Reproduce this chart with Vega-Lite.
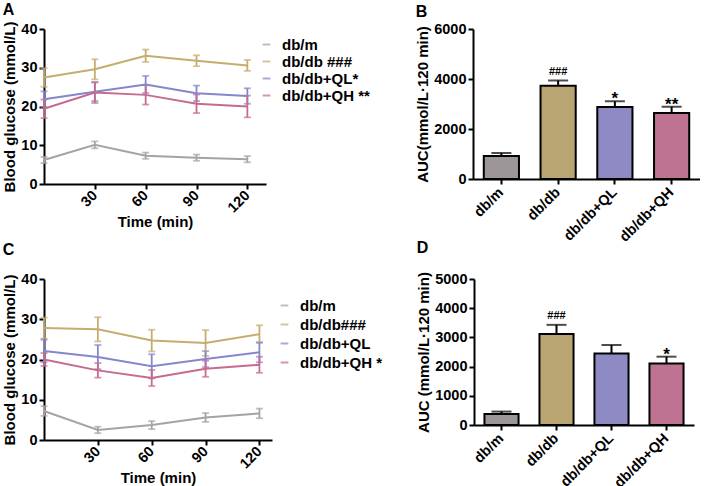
{
  "$schema": "https://vega.github.io/schema/vega-lite/v6.json",
  "padding": {"left": 2, "top": 2, "right": 0, "bottom": 0},
  "background": "white",
  "datasets": {
    "lineA": [
      {"t": 0, "group": "db/m", "mean": 6.2, "sd": 0.8},
      {"t": 30, "group": "db/m", "mean": 10.1, "sd": 0.9},
      {"t": 60, "group": "db/m", "mean": 7.3, "sd": 0.8},
      {"t": 90, "group": "db/m", "mean": 6.8, "sd": 0.8},
      {"t": 120, "group": "db/m", "mean": 6.4, "sd": 0.8},
      {"t": 0, "group": "db/db", "mean": 27.5, "sd": 2.4},
      {"t": 30, "group": "db/db", "mean": 29.6, "sd": 2.6},
      {"t": 60, "group": "db/db", "mean": 33.1, "sd": 1.6},
      {"t": 90, "group": "db/db", "mean": 31.8, "sd": 1.4},
      {"t": 120, "group": "db/db", "mean": 30.6, "sd": 1.4},
      {"t": 0, "group": "db/db+QL", "mean": 21.9, "sd": 2.0},
      {"t": 30, "group": "db/db+QL", "mean": 23.8, "sd": 2.4},
      {"t": 60, "group": "db/db+QL", "mean": 25.7, "sd": 2.2},
      {"t": 90, "group": "db/db+QL", "mean": 23.4, "sd": 2.0},
      {"t": 120, "group": "db/db+QL", "mean": 22.7, "sd": 2.0},
      {"t": 0, "group": "db/db+QH", "mean": 19.4, "sd": 2.4},
      {"t": 30, "group": "db/db+QH", "mean": 23.6, "sd": 2.7},
      {"t": 60, "group": "db/db+QH", "mean": 23.0, "sd": 2.5},
      {"t": 90, "group": "db/db+QH", "mean": 20.7, "sd": 2.4},
      {"t": 120, "group": "db/db+QH", "mean": 20.0, "sd": 2.8}
    ],
    "lineC": [
      {"t": 0, "group": "db/m", "mean": 7.2, "sd": 1.2},
      {"t": 30, "group": "db/m", "mean": 2.5, "sd": 0.8},
      {"t": 60, "group": "db/m", "mean": 3.7, "sd": 1.0},
      {"t": 90, "group": "db/m", "mean": 5.6, "sd": 1.1},
      {"t": 120, "group": "db/m", "mean": 6.6, "sd": 1.2},
      {"t": 0, "group": "db/db", "mean": 27.8, "sd": 2.6},
      {"t": 30, "group": "db/db", "mean": 27.5, "sd": 3.0},
      {"t": 60, "group": "db/db", "mean": 24.7, "sd": 2.7},
      {"t": 90, "group": "db/db", "mean": 24.1, "sd": 3.2},
      {"t": 120, "group": "db/db", "mean": 26.3, "sd": 2.2},
      {"t": 0, "group": "db/db+QL", "mean": 22.1, "sd": 2.8},
      {"t": 30, "group": "db/db+QL", "mean": 20.6, "sd": 3.0},
      {"t": 60, "group": "db/db+QL", "mean": 18.3, "sd": 3.0},
      {"t": 90, "group": "db/db+QL", "mean": 20.1, "sd": 2.0},
      {"t": 120, "group": "db/db+QL", "mean": 21.8, "sd": 2.5},
      {"t": 0, "group": "db/db+QH", "mean": 20.0, "sd": 1.6},
      {"t": 30, "group": "db/db+QH", "mean": 17.3, "sd": 1.8},
      {"t": 60, "group": "db/db+QH", "mean": 15.4, "sd": 2.0},
      {"t": 90, "group": "db/db+QH", "mean": 17.7, "sd": 2.0},
      {"t": 120, "group": "db/db+QH", "mean": 18.7, "sd": 2.0}
    ],
    "barB": [
      {"group": "db/m", "mean": 920, "lo": 800, "hi": 1040, "sig": ""},
      {"group": "db/db", "mean": 3730, "lo": 3520, "hi": 3940, "sig": "###"},
      {"group": "db/db+QL", "mean": 2880, "lo": 2650, "hi": 3110, "sig": "*"},
      {"group": "db/db+QH", "mean": 2640, "lo": 2390, "hi": 2890, "sig": "**"}
    ],
    "barD": [
      {"group": "db/m", "mean": 380, "lo": 300, "hi": 460, "sig": ""},
      {"group": "db/db", "mean": 3120, "lo": 2810, "hi": 3430, "sig": "###"},
      {"group": "db/db+QL", "mean": 2450, "lo": 2160, "hi": 2740, "sig": ""},
      {"group": "db/db+QH", "mean": 2110, "lo": 1880, "hi": 2340, "sig": "*"}
    ]
  },
  "vconcat": [
    {
      "hconcat": [
        {
          "title": {"text": "A", "anchor": "start", "frame": "bounds", "offset": 3},
          "width": 222,
          "height": 155,
          "data": {"name": "lineA"},
          "layer": [
            {
              "mark": {"type": "errorbar", "ticks": {"size": 7}, "thickness": 1.8},
              "encoding": {
                "x": {"field": "t", "type": "quantitative", "title": "Time (min)",
                      "scale": {"domain": [0, 131], "nice": false},
                      "axis": {"values": [30, 60, 90, 120], "labelAngle": -45, "labelAlign": "right", "labelBaseline": "middle", "labelPadding": 4, "titlePadding": 0}},
                "y": {"field": "mean", "type": "quantitative", "title": "Blood glucose (mmol/L)",
                      "scale": {"domain": [0, 40], "nice": false},
                      "axis": {"values": [0, 10, 20, 30, 40]}},
                "yError": {"field": "sd"},
                "color": {"field": "group", "type": "nominal",
                          "scale": {"domain": ["db/m", "db/db", "db/db+QL", "db/db+QH"], "range": ["#a6a3a5", "#c4ad6e", "#8586cc", "#c76a8d"]},
                          "legend": {"title": null, "orient": "none", "legendX": 215, "legendY": 8,
                                     "labelExpr": "datum.label == 'db/db' ? 'db/db ###' : datum.label == 'db/db+QL' ? 'db/db+QL*' : datum.label == 'db/db+QH' ? 'db/db+QH **' : datum.label",
                                     "rowPadding": 1}}
              }
            },
            {
              "mark": {"type": "line", "strokeWidth": 2},
              "encoding": {
                "x": {"field": "t", "type": "quantitative", "title": "Time (min)",
                      "scale": {"domain": [0, 131], "nice": false},
                      "axis": {"values": [30, 60, 90, 120], "labelAngle": -45, "labelAlign": "right", "labelBaseline": "middle", "labelPadding": 4, "titlePadding": 0}},
                "y": {"field": "mean", "type": "quantitative", "title": "Blood glucose (mmol/L)",
                      "scale": {"domain": [0, 40], "nice": false},
                      "axis": {"values": [0, 10, 20, 30, 40]}},
                "color": {"field": "group", "type": "nominal",
                          "scale": {"domain": ["db/m", "db/db", "db/db+QL", "db/db+QH"], "range": ["#a6a3a5", "#c4ad6e", "#8586cc", "#c76a8d"]},
                          "legend": {"title": null, "orient": "none", "legendX": 215, "legendY": 8,
                                     "labelExpr": "datum.label == 'db/db' ? 'db/db ###' : datum.label == 'db/db+QL' ? 'db/db+QL*' : datum.label == 'db/db+QH' ? 'db/db+QH **' : datum.label",
                                     "rowPadding": 1}}
              }
            }
          ]
        },
        {
          "title": {"text": "B", "anchor": "start", "frame": "bounds", "offset": 1},
          "width": 227,
          "height": 150,
          "data": {"name": "barB"},
          "layer": [
            {
              "mark": {"type": "errorbar", "ticks": {"size": 20}, "thickness": 2, "color": "black"},
              "encoding": {
                "x": {"field": "group", "type": "nominal", "sort": null, "title": null,
                      "scale": {"paddingInner": 0.38, "paddingOuter": 0.19},
                      "axis": {"labelAngle": -45, "labelAlign": "right", "labelBaseline": "middle", "labelPadding": 6}},
                "y": {"field": "lo", "type": "quantitative", "title": "AUC(mmol/L·120 min)",
                      "scale": {"domain": [0, 6000], "nice": false},
                      "axis": {"values": [0, 2000, 4000, 6000], "format": "d"}},
                "y2": {"field": "hi"}
              }
            },
            {
              "mark": {"type": "bar", "stroke": "black", "strokeWidth": 2},
              "encoding": {
                "x": {"field": "group", "type": "nominal", "sort": null, "title": null,
                      "scale": {"paddingInner": 0.38, "paddingOuter": 0.19},
                      "axis": {"labelAngle": -45, "labelAlign": "right", "labelBaseline": "middle", "labelPadding": 6}},
                "y": {"field": "mean", "type": "quantitative", "title": "AUC(mmol/L·120 min)",
                      "scale": {"domain": [0, 6000], "nice": false},
                      "axis": {"values": [0, 2000, 4000, 6000], "format": "d"}},
                "fill": {"field": "group", "type": "nominal", "legend": null,
                         "scale": {"domain": ["db/m", "db/db", "db/db+QL", "db/db+QH"], "range": ["#9d9698", "#b8a571", "#8d8ac4", "#bd7391"]}}
              }
            },
            {
              "transform": [{"filter": "datum.sig === '###'"}],
              "mark": {"type": "text", "fontSize": 11, "fontWeight": "bold", "font": "Liberation Sans", "baseline": "alphabetic", "dy": -6, "color": "black"},
              "encoding": {
                "x": {"field": "group", "type": "nominal", "sort": null, "title": null,
                      "axis": {"labelAngle": -45, "labelAlign": "right", "labelBaseline": "middle", "labelPadding": 6}},
                "y": {"field": "hi", "type": "quantitative", "title": "AUC(mmol/L·120 min)",
                      "axis": {"values": [0, 2000, 4000, 6000], "format": "d"}},
                "text": {"field": "sig"}
              }
            },
            {
              "transform": [{"filter": "datum.sig !== '###' && datum.sig !== ''"}],
              "mark": {"type": "text", "fontSize": 17, "fontWeight": "bold", "font": "Liberation Sans", "baseline": "alphabetic", "dy": 3, "color": "black"},
              "encoding": {
                "x": {"field": "group", "type": "nominal", "sort": null, "title": null,
                      "axis": {"labelAngle": -45, "labelAlign": "right", "labelBaseline": "middle", "labelPadding": 6}},
                "y": {"field": "hi", "type": "quantitative", "title": "AUC(mmol/L·120 min)",
                      "axis": {"values": [0, 2000, 4000, 6000], "format": "d"}},
                "text": {"field": "sig"}
              }
            }
          ]
        }
      ],
      "spacing": 149
    },
    {
      "hconcat": [
        {
          "title": {"text": "C", "anchor": "start", "frame": "bounds", "offset": 13},
          "width": 228,
          "height": 161,
          "data": {"name": "lineC"},
          "layer": [
            {
              "mark": {"type": "errorbar", "ticks": {"size": 7}, "thickness": 1.8},
              "encoding": {
                "x": {"field": "t", "type": "quantitative", "title": "Time (min)",
                      "scale": {"domain": [0, 127], "nice": false},
                      "axis": {"values": [30, 60, 90, 120], "labelAngle": -45, "labelAlign": "right", "labelBaseline": "middle", "labelPadding": 4, "titlePadding": 0}},
                "y": {"field": "mean", "type": "quantitative", "title": "Blood glucose (mmol/L)",
                      "scale": {"domain": [0, 40], "nice": false},
                      "axis": {"values": [0, 10, 20, 30, 40]}},
                "yError": {"field": "sd"},
                "color": {"field": "group", "type": "nominal",
                          "scale": {"domain": ["db/m", "db/db", "db/db+QL", "db/db+QH"], "range": ["#a6a3a5", "#c4ad6e", "#8586cc", "#c76a8d"]},
                          "legend": {"title": null, "orient": "none", "legendX": 233, "legendY": 19,
                                     "labelExpr": "datum.label == 'db/db' ? 'db/db###' : datum.label == 'db/db+QH' ? 'db/db+QH *' : datum.label",
                                     "rowPadding": 3}}
              }
            },
            {
              "mark": {"type": "line", "strokeWidth": 2},
              "encoding": {
                "x": {"field": "t", "type": "quantitative", "title": "Time (min)",
                      "scale": {"domain": [0, 127], "nice": false},
                      "axis": {"values": [30, 60, 90, 120], "labelAngle": -45, "labelAlign": "right", "labelBaseline": "middle", "labelPadding": 4, "titlePadding": 0}},
                "y": {"field": "mean", "type": "quantitative", "title": "Blood glucose (mmol/L)",
                      "scale": {"domain": [0, 40], "nice": false},
                      "axis": {"values": [0, 10, 20, 30, 40]}},
                "color": {"field": "group", "type": "nominal",
                          "scale": {"domain": ["db/m", "db/db", "db/db+QL", "db/db+QH"], "range": ["#a6a3a5", "#c4ad6e", "#8586cc", "#c76a8d"]},
                          "legend": {"title": null, "orient": "none", "legendX": 233, "legendY": 19,
                                     "labelExpr": "datum.label == 'db/db' ? 'db/db###' : datum.label == 'db/db+QH' ? 'db/db+QH *' : datum.label",
                                     "rowPadding": 3}}
              }
            }
          ]
        },
        {
          "title": {"text": "D", "anchor": "start", "frame": "bounds", "offset": 15},
          "width": 220,
          "height": 146,
          "data": {"name": "barD"},
          "layer": [
            {
              "mark": {"type": "errorbar", "ticks": {"size": 20}, "thickness": 2, "color": "black"},
              "encoding": {
                "x": {"field": "group", "type": "nominal", "sort": null, "title": null,
                      "scale": {"paddingInner": 0.38, "paddingOuter": 0.19},
                      "axis": {"labelAngle": -45, "labelAlign": "right", "labelBaseline": "middle", "labelPadding": 6}},
                "y": {"field": "lo", "type": "quantitative", "title": "AUC (mmol/L·120 min)",
                      "scale": {"domain": [0, 5000], "nice": false},
                      "axis": {"values": [0, 1000, 2000, 3000, 4000, 5000], "format": "d"}},
                "y2": {"field": "hi"}
              }
            },
            {
              "mark": {"type": "bar", "stroke": "black", "strokeWidth": 2},
              "encoding": {
                "x": {"field": "group", "type": "nominal", "sort": null, "title": null,
                      "scale": {"paddingInner": 0.38, "paddingOuter": 0.19},
                      "axis": {"labelAngle": -45, "labelAlign": "right", "labelBaseline": "middle", "labelPadding": 6}},
                "y": {"field": "mean", "type": "quantitative", "title": "AUC (mmol/L·120 min)",
                      "scale": {"domain": [0, 5000], "nice": false},
                      "axis": {"values": [0, 1000, 2000, 3000, 4000, 5000], "format": "d"}},
                "fill": {"field": "group", "type": "nominal", "legend": null,
                         "scale": {"domain": ["db/m", "db/db", "db/db+QL", "db/db+QH"], "range": ["#9d9698", "#b8a571", "#8d8ac4", "#bd7391"]}}
              }
            },
            {
              "transform": [{"filter": "datum.sig === '###'"}],
              "mark": {"type": "text", "fontSize": 11, "fontWeight": "bold", "font": "Liberation Sans", "baseline": "alphabetic", "dy": -6, "color": "black"},
              "encoding": {
                "x": {"field": "group", "type": "nominal", "sort": null, "title": null,
                      "axis": {"labelAngle": -45, "labelAlign": "right", "labelBaseline": "middle", "labelPadding": 6}},
                "y": {"field": "hi", "type": "quantitative", "title": "AUC (mmol/L·120 min)",
                      "axis": {"values": [0, 1000, 2000, 3000, 4000, 5000], "format": "d"}},
                "text": {"field": "sig"}
              }
            },
            {
              "transform": [{"filter": "datum.sig !== '###' && datum.sig !== ''"}],
              "mark": {"type": "text", "fontSize": 17, "fontWeight": "bold", "font": "Liberation Sans", "baseline": "alphabetic", "dy": 3, "color": "black"},
              "encoding": {
                "x": {"field": "group", "type": "nominal", "sort": null, "title": null,
                      "axis": {"labelAngle": -45, "labelAlign": "right", "labelBaseline": "middle", "labelPadding": 6}},
                "y": {"field": "hi", "type": "quantitative", "title": "AUC (mmol/L·120 min)",
                      "axis": {"values": [0, 1000, 2000, 3000, 4000, 5000], "format": "d"}},
                "text": {"field": "sig"}
              }
            }
          ]
        }
      ],
      "spacing": 144
    }
  ],
  "spacing": -4,
  "resolve": {"scale": {"color": "independent", "fill": "independent"}},
  "config": {
    "view": {"stroke": null},
    "font": "Liberation Sans",
    "title": {"fontSize": 16, "fontWeight": "bold", "color": "black", "font": "Liberation Sans"},
    "axis": {
      "grid": false,
      "domainColor": "black",
      "domainWidth": 2,
      "tickColor": "black",
      "tickWidth": 2,
      "tickSize": 5,
      "labelOverlap": false,
      "labelFont": "Liberation Sans",
      "labelFontSize": 14.5,
      "labelFontWeight": "bold",
      "labelColor": "black",
      "titleFont": "Liberation Sans",
      "titleFontSize": 15,
      "titleFontWeight": "bold",
      "titleColor": "black",
      "titlePadding": 3
    },
    "legend": {
      "labelFont": "Liberation Sans",
      "labelFontSize": 15,
      "labelFontWeight": "bold",
      "labelColor": "black",
      "symbolType": "stroke",
      "symbolStrokeWidth": 2,
      "symbolSize": 60,
      "labelOffset": 8
    }
  }
}
